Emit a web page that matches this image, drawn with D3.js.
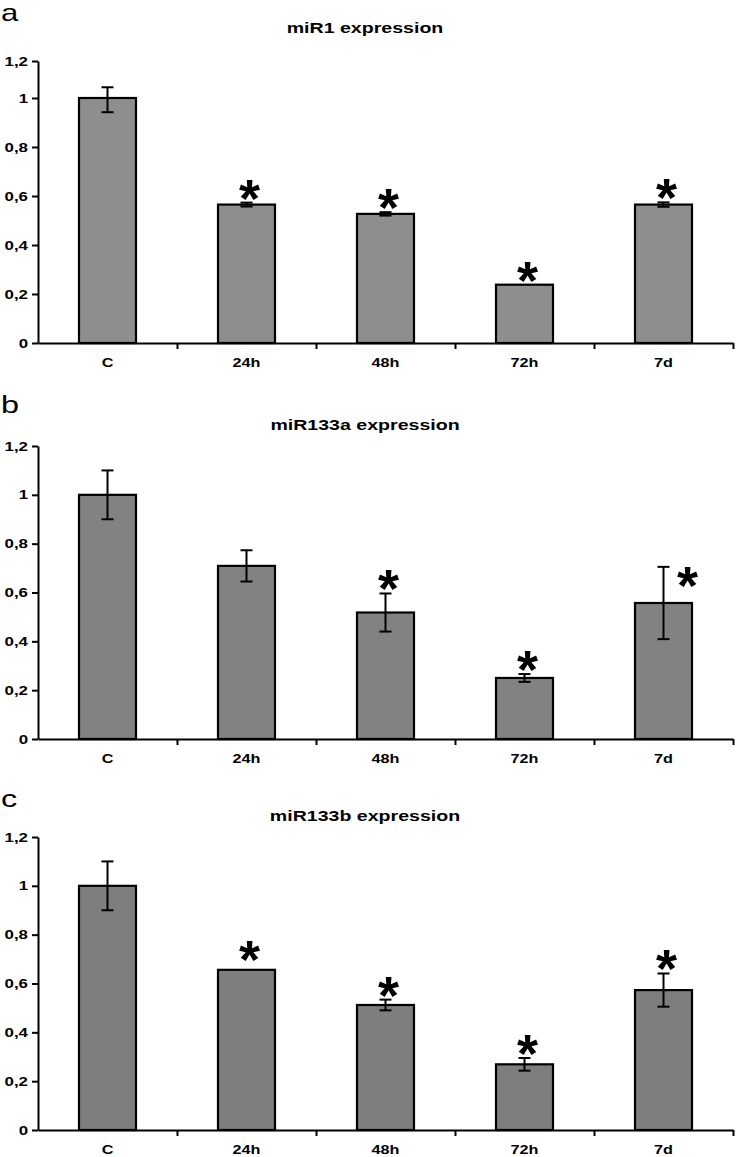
<!DOCTYPE html>
<html lang="en">

<head>
  <meta charset="UTF-8" />
  <title>miR1 / miR133a / miR133b expression</title>
  <script src="https://d3js.org/d3.v7.min.js"></script>
  <style>
    body {
      margin: 0;
      background: #fff;
      font-family: "Liberation Sans", Arial, sans-serif;
    }

    .axis path,
    .axis line {
      stroke: #000;
      stroke-width: 2px;
    }

    .axis text {
      font-family: "Liberation Sans", Arial, sans-serif;
      font-weight: bold;
      fill: #000;
    }

    .bar {
      stroke: #000;
      stroke-width: 2.2px;
    }

    .err {
      stroke: #000;
      stroke-width: 2px;
    }
  </style>
</head>

<body>
  <svg width="739" height="1157"></svg>

  <script>
    // data
    const categories = ["C", "24h", "48h", "72h", "7d"];
    const titles = ["miR1 expression", "miR133a expression", "miR133b expression"];
    const panelLetters = ["a", "b", "c"];
    const yTicks = [0, 0.2, 0.4, 0.6, 0.8, 1, 1.2];

    const mir1Values = [1.0, 0.565, 0.527, 0.238, 0.565];
    const mir1Errors = [0.058, 0.008, 0.007, 0, 0.009];
    const mir1Stars = [false, true, true, true, true];

    const mir133aValues = [1.0, 0.709, 0.518, 0.25, 0.557];
    const mir133aErrors = [0.10, 0.064, 0.078, 0.016, 0.148];
    const mir133aStars = [false, false, true, true, true];

    const mir133bValues = [1.0, 0.656, 0.512, 0.269, 0.573];
    const mir133bErrors = [0.10, 0, 0.022, 0.026, 0.068];
    const mir133bStars = [false, true, true, true, true];

    const svg = d3.select("svg");
    const stretch = 1.35; // the figure's lettering is widened horizontally
    const xLeft = 38, xRight = 733;
    const starSize = 54;
    const commaFmt = d3.formatLocale({ decimal: ",", thousands: ".", grouping: [3], currency: ["", ""] }).format("~g");

    // panel layout (y scale range in pixels, colours, text positions)
    const panels = [
      {
        values: mir1Values, errors: mir1Errors, stars: mir1Stars,
        yDomain: [0, 1, 1.2], yRange: [343, 98, 61], fill: "#8e8e8e",
        letterY: 21, letterSize: 23, titleY: 33, starAdjust: {}
      },
      {
        values: mir133aValues, errors: mir133aErrors, stars: mir133aStars,
        yDomain: [0, 1.2], yRange: [739, 446], fill: "#828282",
        letterY: 413, letterSize: 24, titleY: 430, starAdjust: { "7d": { dx: 21, gap: -17 } }
      },
      {
        values: mir133bValues, errors: mir133bErrors, stars: mir133bStars,
        yDomain: [0, 1.2], yRange: [1130, 837], fill: "#7e7e7e",
        letterY: 807, letterSize: 24, titleY: 821, starAdjust: { "24h": { gap: 12 } }
      }
    ];

    const x = d3.scaleBand().domain(categories).range([xLeft, xRight]).padding(0);
    const barW = x.step() * 0.41;
    const edges = d3.scaleLinear().domain([0, categories.length]).range([xLeft, xRight]);

    panels.forEach((p, i) => {
      const g = svg.append("g");
      const y = d3.scaleLinear().domain(p.yDomain).range(p.yRange);
      const y0 = y(0);
      const rows = categories.map((c, k) => ({ cat: c, v: p.values[k], e: p.errors[k], star: p.stars[k] }));

      // panel letter and title
      g.append("text")
        .attr("transform", `translate(1,${p.letterY}) scale(${stretch},1)`)
        .style("font-size", p.letterSize + "px")
        .text(panelLetters[i]);
      g.append("text")
        .attr("transform", `translate(365,${p.titleY}) scale(${stretch},1)`)
        .attr("text-anchor", "middle")
        .style("font-size", "14.5px")
        .style("font-weight", "bold")
        .text(titles[i]);

      // bars
      g.selectAll(".bar")
        .data(rows)
        .enter()
        .append("rect")
        .attr("class", "bar")
        .attr("x", d => x(d.cat) + (x.step() - barW) / 2)
        .attr("width", barW)
        .attr("y", d => y(d.v))
        .attr("height", d => y0 - y(d.v))
        .attr("fill", p.fill);

      // error bars
      const withErr = rows.filter(d => d.e > 0);
      const cx = d => x(d.cat) + x.step() / 2;
      g.selectAll(".err-v")
        .data(withErr)
        .enter()
        .append("line")
        .attr("class", "err")
        .attr("x1", cx).attr("x2", cx)
        .attr("y1", d => y(d.v + d.e))
        .attr("y2", d => y(d.v - d.e));
      ["top", "bottom"].forEach(side => {
        g.selectAll(".err-" + side)
          .data(withErr)
          .enter()
          .append("line")
          .attr("class", "err")
          .attr("x1", d => cx(d) - 6).attr("x2", d => cx(d) + 6)
          .attr("y1", d => y(side === "top" ? d.v + d.e : d.v - d.e))
          .attr("y2", d => y(side === "top" ? d.v + d.e : d.v - d.e));
      });

      // significance asterisks
      g.selectAll(".star")
        .data(rows.filter(d => d.star))
        .enter()
        .append("text")
        .attr("class", "star")
        .attr("text-anchor", "middle")
        .style("font-size", starSize + "px")
        .style("font-weight", "bold")
        .attr("x", d => cx(d) + 3 + ((p.starAdjust[d.cat] || {}).dx || 0))
        .attr("y", d => {
          const adj = p.starAdjust[d.cat] || {};
          const gap = adj.gap !== undefined ? adj.gap : 6;
          return y(d.v + d.e) - gap + starSize * 0.37;
        })
        .text("*");

      // y axis
      g.append("g")
        .attr("class", "axis")
        .attr("transform", `translate(${xLeft},0)`)
        .call(d3.axisLeft(y).tickValues(yTicks).tickFormat(commaFmt).tickSize(6).tickSizeOuter(0))
        .selectAll("text")
        .style("font-size", "12.5px")
        .attr("x", -10 / stretch)
        .attr("transform", `scale(${stretch},1)`);

      // x axis: ticks at category boundaries, labels at centres
      g.append("g")
        .attr("class", "axis")
        .attr("transform", `translate(0,${y0})`)
        .call(d3.axisBottom(edges).tickValues(d3.range(1, categories.length + 1)).tickFormat("").tickSize(6).tickSizeOuter(0));
      g.append("g")
        .attr("class", "axis")
        .attr("transform", `translate(0,${y0})`)
        .call(d3.axisBottom(x).tickSize(0).tickPadding(15))
        .call(a => a.select(".domain").remove())
        .selectAll("text")
        .style("font-size", "12px")
        .attr("transform", `scale(${stretch},1)`);
    });
  </script>
</body>

</html>
